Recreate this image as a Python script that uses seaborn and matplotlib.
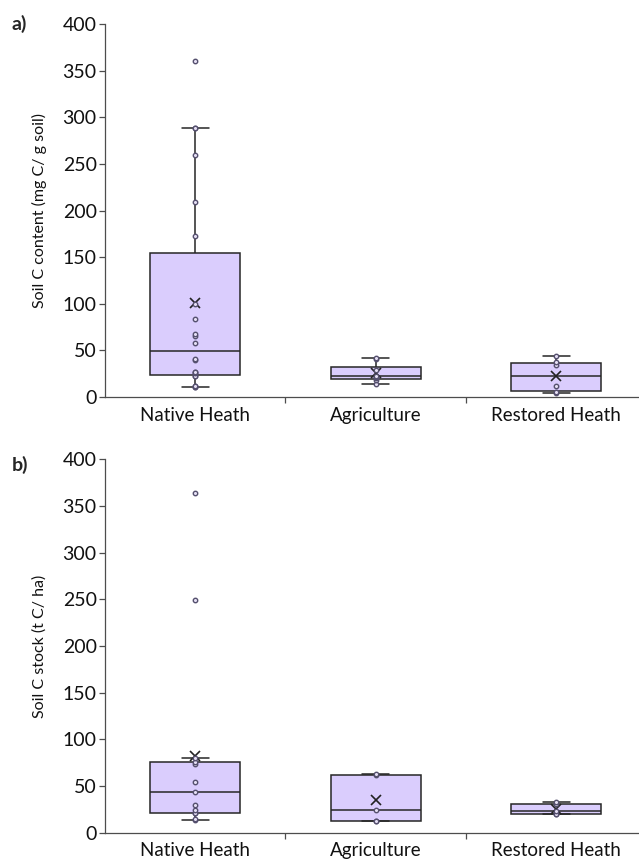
import pandas as pd
import matplotlib.pyplot as plt
import seaborn as sns
from matplotlib.ticker import FixedLocator

# === Data ===
categories = ["Native Heath", "Agriculture", "Restored Heath"]

# a) Soil C content (mg C / g soil)
content_native = [11, 11, 12, 12, 22, 23, 26, 27, 27, 40, 41,
                  58, 65, 68, 84, 100, 173, 209, 260, 289, 289, 360]
content_agri = [14, 18, 20, 21, 23, 29, 41, 42]
content_restored = [4, 5, 12, 34, 38, 44]

# b) Soil C stock (t C / ha)
stock_native = [14, 15, 21, 21, 24, 30, 44, 54, 74, 76, 80, 249, 364]
stock_agri = [13, 13, 24, 62, 63]
stock_restored = [20, 20, 23, 31, 33]

y_ticks = [0, 50, 100, 150, 200, 250, 300, 350, 400]
panel_labels = ["a)", "b)"]
y_labels = ["Soil C content (mg C/ g soil)", "Soil C stock (t C/ ha)"]


def long_frame(groups):
    rows = []
    for cat, vals in zip(categories, groups):
        for v in vals:
            rows.append({"group": cat, "value": v})
    return pd.DataFrame(rows)


df_content = long_frame([content_native, content_agri, content_restored])
df_stock = long_frame([stock_native, stock_agri, stock_restored])

# === Style ===
sns.set_theme(style="ticks")
plt.rcParams["font.family"] = ["Lato", "DejaVu Sans"]

box_fill = "#dacdfd"
line_col = "#262626"
axis_col = "#4d4d4d"

fig = plt.figure(figsize=(6.39, 8.64), dpi=100)
ax_a = fig.add_axes([0.1643, 0.5405, 0.8474, 0.4317])
ax_b = fig.add_axes([0.1643, 0.0362, 0.8474, 0.4322])

for ax, df, ylab, plab, ypos in zip([ax_a, ax_b], [df_content, df_stock],
                                    y_labels, panel_labels, [0.972, 0.462]):
    sns.boxplot(data=df, x="group", y="value", order=categories, ax=ax,
                width=0.5, color=box_fill, saturation=1, linecolor=line_col,
                linewidth=1.1, showfliers=False, whis=1.5, capwidths=0.15,
                showmeans=True,
                meanprops=dict(marker="x", markeredgecolor="#222222",
                               markersize=7, markeredgewidth=1.2))
    sns.stripplot(data=df, x="group", y="value", order=categories, ax=ax,
                  jitter=False, size=3.2, color="#e6e0f5", edgecolor="#55506e",
                  linewidth=1, zorder=3)

    ax.set_ylim(0, 400)
    ax.set_xlim(-0.5, 2.5)
    ax.set_yticks(y_ticks)
    ax.set_xlabel("")
    ax.set_ylabel(ylab, fontsize=11.5, color="#111111")
    ax.yaxis.set_label_coords(-0.108, 0.5)
    ax.tick_params(axis="y", labelsize=14, length=4, width=0.9,
                   color=axis_col, pad=2, labelcolor="#111111")
    ax.tick_params(axis="x", which="major", labelsize=13.5, length=0, pad=7,
                   labelcolor="#111111")
    ax.xaxis.set_minor_locator(FixedLocator([0.5, 1.5]))
    ax.tick_params(axis="x", which="minor", length=4, width=0.9, color=axis_col)
    for side in ["top", "right"]:
        ax.spines[side].set_visible(False)
    for side in ["left", "bottom"]:
        ax.spines[side].set_color(axis_col)
        ax.spines[side].set_linewidth(0.9)
    ax.patch.set_alpha(0)
    fig.text(0.018, ypos, plab, fontsize=14, fontweight="bold", va="center")

fig.savefig("out.png", dpi=100)
